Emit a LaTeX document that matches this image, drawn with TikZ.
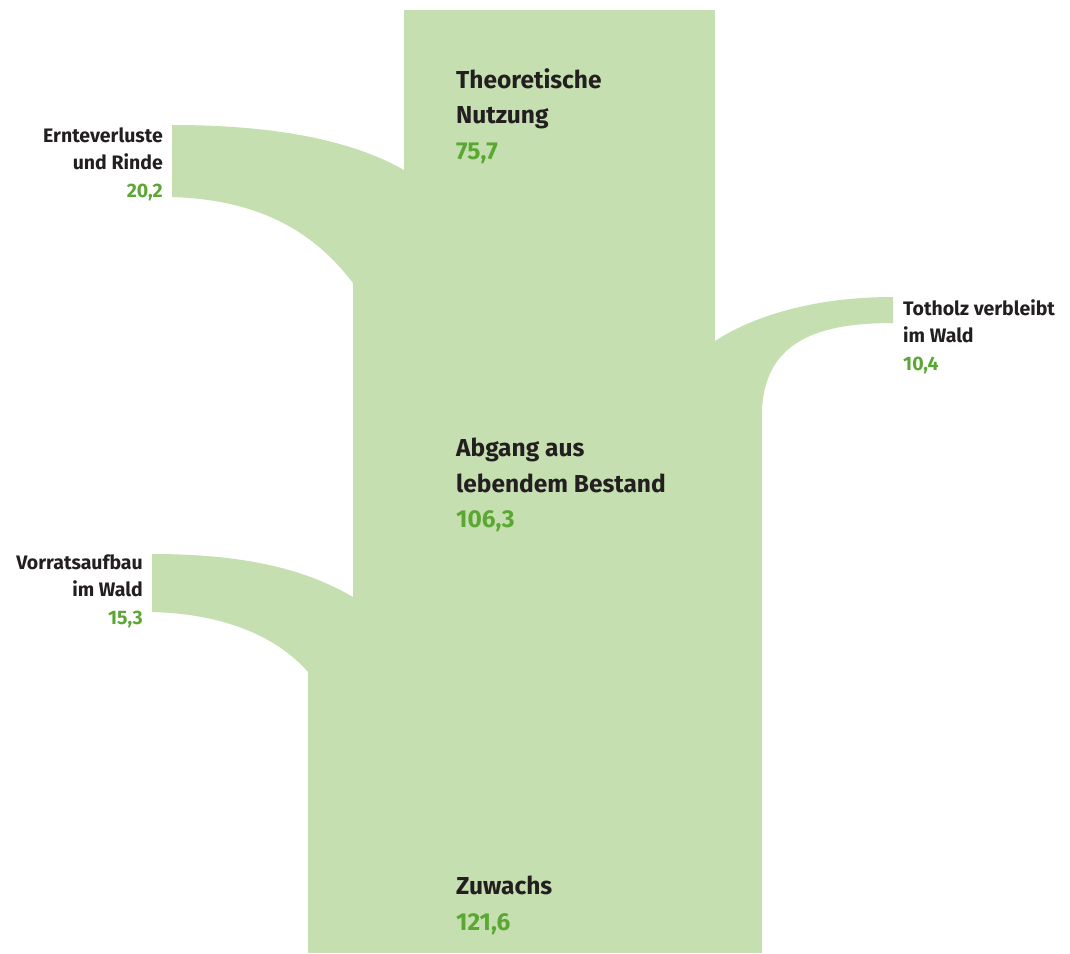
\documentclass[tikz,border=0pt]{standalone}
\usepackage{fontspec}
\setmainfont{Fira Sans}
\definecolor{flowgreen}{RGB}{197,223,176}
\definecolor{valgreen}{RGB}{91,167,51}
\definecolor{labelgray}{RGB}{35,31,32}

\begin{document}
\begin{tikzpicture}[x=1pt, y=-1pt,
  flow/.style={fill=flowgreen, draw=none},
  biglabel/.style={inner sep=0pt, align=left, text=labelgray, font=\bfseries\fontsize{24.5}{35.5}\selectfont},
  smalllabel/.style={inner sep=0pt, text=labelgray, font=\bfseries\fontsize{19.5}{27.8}\selectfont}]
\useasboundingbox (0,0) rectangle (1070,953);
%Stem
\fill[flow] (404,10) rectangle (715,953);
\fill[flow] (353,283) rectangle (715,953);
\fill[flow] (715,410) rectangle (762,953);
\fill[flow] (308,672) rectangle (762,953);
%Branches
\fill[flow] (172,125) .. controls (290,125) and (360,145) .. (404,170) -- (404,283) -- (353,283)
  .. controls (320,240) and (270,200) .. (172,197) -- cycle;
\fill[flow] (893,297) .. controls (810,297) and (750,318) .. (715,341) -- (715,410) -- (762,410)
  .. controls (765,340) and (820,323) .. (893,323) -- cycle;
\fill[flow] (152,554) .. controls (260,554) and (315,575) .. (353,597) -- (353,672) -- (308,672)
  .. controls (280,640) and (230,614) .. (152,612) -- cycle;
%Labels
\node[biglabel, anchor=north west] (nutzung) at (456,68) {Theoretische\\Nutzung\\\textcolor{valgreen}{75,7}};
\node[biglabel, anchor=north west] (abgang) at (456,438) {Abgang aus\\lebendem Bestand\\\textcolor{valgreen}{106,3}};
\node[biglabel, anchor=north west] (zuwachs) at (456,876) {Zuwachs\\\textcolor{valgreen}{121,6}};
\node[smalllabel, align=right, anchor=north east] (ernte) at (163,127) {Ernteverluste\\und Rinde\\\textcolor{valgreen}{20,2}};
\node[smalllabel, align=left, anchor=north west] (totholz) at (903,299) {Totholz verbleibt\\im Wald\\\textcolor{valgreen}{10,4}};
\node[smalllabel, align=right, anchor=north east] (vorrat) at (143,554) {Vorratsaufbau\\im Wald\\\textcolor{valgreen}{15,3}};
\end{tikzpicture}
\end{document}
